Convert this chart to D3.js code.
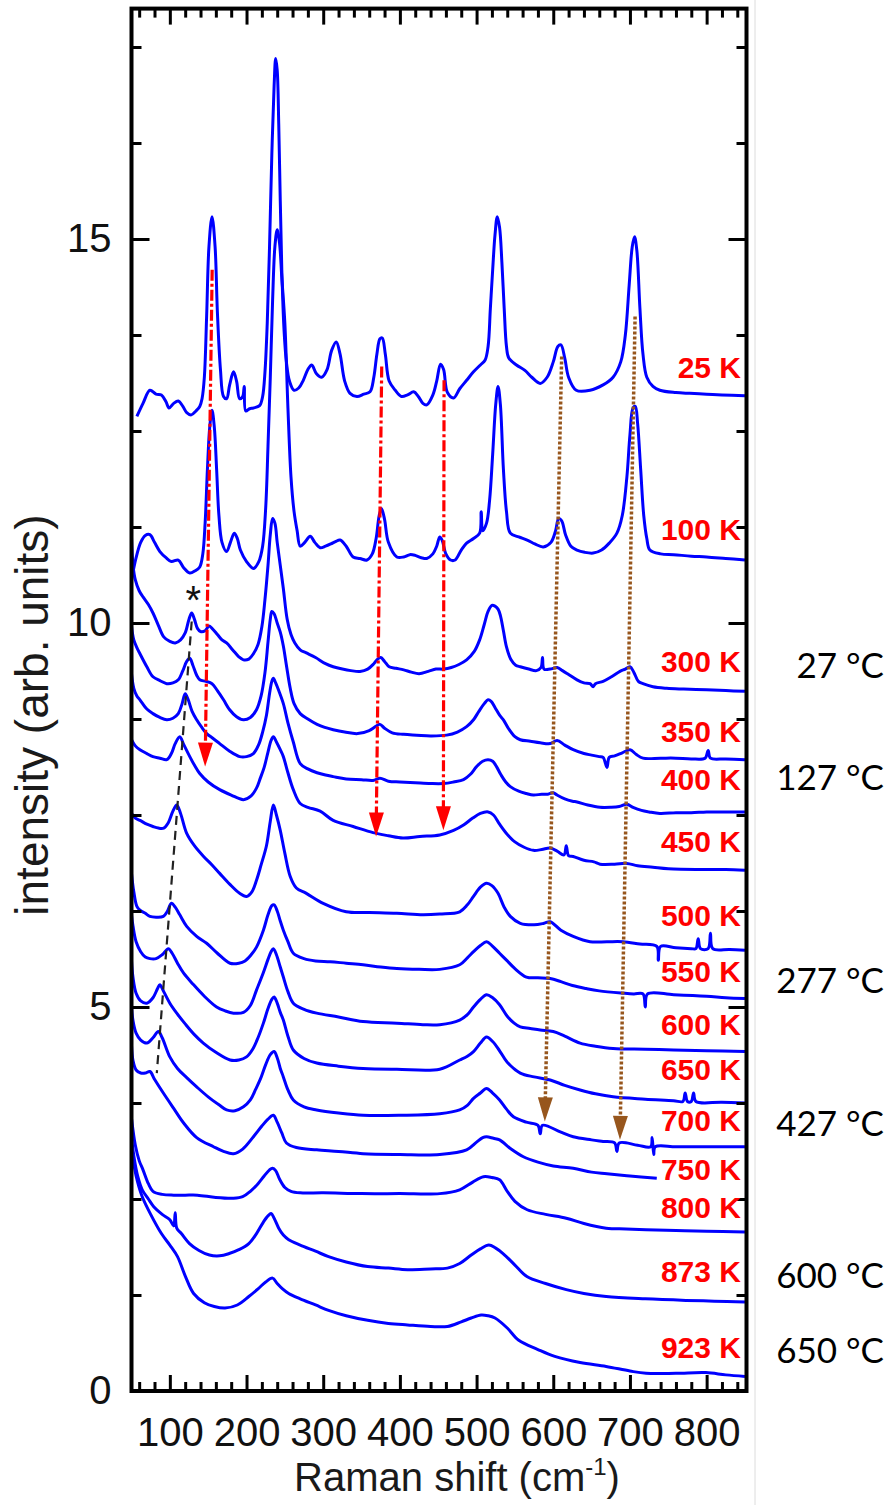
<!DOCTYPE html>
<html><head><meta charset="utf-8">
<script src="https://cdn.jsdelivr.net/npm/d3@7/dist/d3.min.js"></script>
<style>body{margin:0;background:#fff}svg{display:block}</style>
</head><body>
<svg id="chart" width="890" height="1505"></svg>
<script>
// ---------- data (Raman shift cm-1, intensity arb. units) ----------
const xMajorTicks = [100,200,300,400,500,600,700,800];
const xMinorTicks = d3.range(60, 852, 20).filter(v => v % 100 !== 0);
const yMajorTicks = [0,5,10,15];
const yMinorTicks = [1.25,2.5,3.75,6.25,7.5,8.75,11.25,12.5,13.75,16.25,17.5];

const s25K = [[57,12.69],[65,12.86],[74,13.03],[82,12.98],[89,12.97],[95,12.88],[99,12.80],[105,12.86],[111,12.89],[117,12.82],[122,12.74],[128,12.71],[134,12.76],[139,12.82],[142,12.92],[145,13.2],[148,14.0],[151,14.9],[155,15.29],[159,14.9],[162,14.05],[166,13.3],[170,12.95],[174,12.92],[178,13.1],[183,13.27],[187,13.15],[191,12.92],[195,12.95],[197,13.08],[199,12.76],[204,12.79],[209,12.8],[217,12.83],[221,12.95],[224,13.26],[227,13.9],[230,14.9],[233,16.1],[236,17.0],[238,17.35],[240,17.2],[242,16.5],[244,15.5],[246,14.6],[249,13.8],[252,13.4],[256,13.15],[262,13.03],[268,13.06],[274,13.16],[280,13.3],[285,13.36],[291,13.25],[298,13.2],[305,13.3],[311,13.55],[317,13.66],[322,13.5],[328,13.15],[335,12.99],[344,12.95],[353,12.98],[361,13.01],[366,13.2],[370,13.5],[374,13.7],[377,13.71],[381,13.5],[386,13.15],[394,13.03],[402,12.95],[410,12.97],[418,13.01],[424,12.95],[430,12.86],[435,12.84],[443,12.97],[448,13.15],[453,13.37],[457,13.3],[462,13.0],[470,12.93],[478,13.05],[487,13.16],[496,13.27],[505,13.36],[511,13.42],[515,13.6],[518,14.1],[521,14.6],[524,15.05],[527,15.29],[530,15.15],[533,14.7],[536,14.1],[539,13.6],[542,13.45],[552,13.36],[563,13.29],[572,13.2],[583,13.12],[592,13.2],[600,13.4],[606,13.6],[610,13.62],[615,13.45],[620,13.2],[630,13.03],[648,13.03],[665,13.1],[678,13.2],[688,13.4],[694,13.75],[699,14.4],[703,14.9],[706,15.03],[709,14.85],[713,14.1],[717,13.5],[722,13.2],[730,13.08],[739,13.03],[760,13.0],[778,12.99],[800,12.98],[820,12.97],[850,12.96]];
const s100K = [[50,10.56],[56,10.85],[62,11.05],[68,11.14],[74,11.15],[80,11.05],[87,10.93],[95,10.85],[102,10.8],[111,10.82],[118,10.72],[126,10.65],[133,10.68],[139,10.73],[143,10.9],[146,11.3],[149,12.0],[152,12.55],[155,12.77],[158,12.55],[161,12.0],[164,11.4],[168,11.05],[174,10.93],[179,11.05],[184,11.17],[188,11.1],[192,10.95],[200,10.8],[209,10.71],[216,10.8],[221,11.0],[225,11.5],[228,12.3],[231,13.2],[234,14.2],[237,14.9],[240,15.12],[243,14.95],[246,14.5],[250,13.9],[254,12.8],[258,11.9],[262,11.45],[266,11.2],[270,11.0],[276,11.05],[283,11.13],[289,11.05],[296,10.98],[303,11.0],[310,11.03],[316,11.06],[322,11.08],[330,11.0],[339,10.86],[348,10.84],[357,10.82],[364,10.9],[369,11.1],[373,11.4],[376,11.49],[380,11.35],[385,11.05],[396,10.86],[405,10.86],[413,10.89],[420,10.88],[428,10.85],[435,10.84],[443,10.9],[448,11.0],[452,11.12],[455,11.08],[460,10.9],[466,10.82],[472,10.82],[480,10.95],[487,11.04],[496,11.1],[504,11.17],[506,11.45],[508,11.2],[513,11.3],[517,11.6],[521,12.2],[525,12.85],[528,13.08],[531,12.85],[535,12.0],[539,11.45],[544,11.17],[555,11.12],[566,11.08],[576,11.03],[587,10.99],[597,11.05],[603,11.2],[607,11.36],[611,11.33],[616,11.15],[623,11.0],[631,10.95],[641,10.92],[652,10.91],[663,10.95],[673,11.04],[683,11.17],[690,11.4],[696,11.9],[700,12.45],[704,12.8],[707,12.82],[710,12.6],[714,12.0],[718,11.4],[722,11.1],[726,10.95],[740,10.9],[757,10.89],[780,10.87],[800,10.86],[825,10.84],[850,10.82]];
const s300K = [[50,11.12],[52,10.75],[55,10.56],[60,10.42],[65,10.34],[72,10.24],[78,10.13],[85,9.97],[92,9.82],[100,9.76],[107,9.74],[114,9.78],[120,9.87],[125,10.05],[128.5,10.13],[132,10.05],[136,9.93],[140,9.89],[146,9.9],[151,9.96],[155,9.93],[162,9.85],[168,9.78],[174,9.74],[182,9.65],[190,9.56],[196,9.52],[203,9.53],[209,9.6],[215,9.72],[220,9.95],[224,10.3],[228,10.75],[231,11.15],[234,11.36],[237,11.3],[240,11.05],[244,10.75],[248,10.45],[253,10.05],[258,9.85],[263,9.74],[270,9.65],[278,9.61],[290,9.55],[303,9.47],[313,9.43],[325,9.4],[336,9.38],[348,9.37],[358,9.4],[366,9.47],[371,9.53],[375,9.55],[380,9.5],[386,9.43],[395,9.41],[405,9.39],[415,9.36],[425,9.34],[437,9.37],[447,9.4],[457,9.4],[467,9.42],[477,9.46],[487,9.52],[497,9.63],[504,9.78],[510,9.98],[515,10.15],[520,10.23],[524,10.22],[528,10.18],[531,10.1],[535,9.9],[539,9.69],[545,9.52],[551,9.45],[557,9.43],[568,9.4],[578,9.38],[584,9.42],[586,9.55],[588,9.4],[596,9.4],[605,9.42],[612,9.38],[620,9.33],[631,9.26],[640,9.22],[648,9.21],[652,9.17],[655,9.21],[665,9.24],[676,9.3],[687,9.37],[694,9.4],[700,9.43],[705,9.36],[711,9.24],[717,9.21],[730,9.17],[748,9.15],[770,9.14],[800,9.13],[825,9.12],[850,9.11]];
const s350K = [[50,9.96],[53,9.78],[57,9.68],[61,9.6],[70,9.43],[78,9.3],[87,9.25],[96,9.21],[104,9.22],[111,9.26],[117,9.38],[122,9.5],[126,9.54],[130,9.45],[135,9.32],[139,9.26],[147,9.24],[155,9.21],[162,9.12],[170,9.0],[178,8.87],[187,8.78],[196,8.74],[205,8.77],[213,8.87],[219,9.05],[224,9.35],[228,9.75],[231,10.05],[233,10.15],[236,10.12],[240,10.0],[244,9.88],[248,9.7],[252,9.45],[257,9.15],[262,8.95],[270,8.82],[280,8.75],[292,8.68],[302,8.64],[313,8.61],[328,8.58],[345,8.56],[360,8.6],[368,8.65],[374,8.68],[380,8.63],[390,8.57],[405,8.55],[422,8.54],[440,8.53],[461,8.54],[475,8.58],[487,8.65],[496,8.74],[503,8.85],[510,8.95],[515,9.0],[519,8.98],[524,8.9],[530,8.8],[535,8.74],[542,8.62],[550,8.52],[557,8.48],[570,8.46],[583,8.44],[596,8.43],[605,8.47],[615,8.41],[626,8.35],[640,8.3],[650,8.28],[660,8.26],[665,8.25],[670,8.12],[673,8.25],[680,8.27],[690,8.31],[700,8.35],[708,8.29],[717,8.24],[740,8.24],[760,8.24],[780,8.23],[798,8.24],[802,8.34],[805,8.24],[825,8.23],[850,8.22]];
const s400K = [[50,9.34],[53,9.15],[57,9.05],[61,9.0],[70,8.88],[78,8.82],[87,8.77],[96,8.74],[104,8.76],[111,8.82],[116,8.95],[120,9.08],[124,9.0],[129,8.85],[135,8.74],[141,8.65],[148,8.56],[156,8.5],[165,8.43],[178,8.33],[191,8.26],[200,8.26],[209,8.3],[216,8.42],[221,8.58],[226,8.8],[230,9.08],[233,9.24],[235,9.28],[238,9.22],[242,9.12],[248,8.95],[254,8.7],[261,8.45],[270,8.17],[280,8.1],[292,8.05],[303,8.02],[313,8.0],[330,7.97],[350,7.96],[365,7.95],[374,7.98],[385,7.94],[400,7.93],[420,7.92],[440,7.91],[457,7.91],[470,7.93],[483,7.96],[492,8.03],[500,8.13],[508,8.2],[515,8.22],[521,8.2],[526,8.13],[532,8.02],[538,7.93],[544,7.87],[555,7.81],[565,7.78],[574,7.76],[585,7.77],[593,7.77],[600,7.79],[605,7.76],[615,7.71],[625,7.68],[631,7.67],[645,7.63],[661,7.6],[675,7.6],[686,7.61],[696,7.64],[704,7.6],[715,7.56],[725,7.54],[739,7.52],[760,7.53],[780,7.53],[800,7.54],[820,7.54],[850,7.54]];
const s450K = [[50,8.48],[55,8.4],[61,8.35],[70,8.3],[78,8.26],[87,8.24],[96,8.22],[102,8.3],[107,8.43],[113,8.52],[118,8.42],[126,8.26],[132,8.15],[139,8.04],[150,7.93],[165,7.83],[180,7.76],[196,7.7],[206,7.75],[213,7.85],[218,7.98],[223,8.12],[228,8.32],[232,8.47],[235,8.52],[239,8.45],[244,8.35],[248,8.26],[254,8.05],[261,7.83],[270,7.65],[280,7.6],[296,7.55],[313,7.43],[339,7.35],[365,7.27],[385,7.23],[404,7.2],[426,7.22],[452,7.24],[470,7.3],[483,7.37],[495,7.46],[505,7.52],[515,7.54],[522,7.5],[530,7.38],[539,7.26],[550,7.15],[562,7.08],[574,7.04],[585,7.05],[596,7.07],[605,7.03],[614,6.98],[617,7.1],[620,6.97],[626,6.96],[640,6.91],[653,6.89],[661,6.86],[680,6.86],[696,6.87],[710,6.84],[730,6.82],[750,6.8],[800,6.79],[825,6.79],[850,6.78]];
const s500K = [[50,7.52],[55,7.46],[61,7.43],[70,7.38],[78,7.35],[85,7.33],[92,7.33],[98,7.4],[104,7.55],[109,7.63],[114,7.52],[122,7.26],[132,7.1],[144,6.96],[155,6.85],[165,6.74],[178,6.6],[191,6.48],[200,6.44],[207,6.5],[213,6.65],[219,6.85],[226,7.1],[231,7.42],[235,7.63],[239,7.5],[244,7.3],[250,7.0],[257,6.7],[265,6.55],[278,6.48],[300,6.35],[330,6.24],[360,6.23],[396,6.22],[430,6.2],[452,6.21],[478,6.24],[488,6.33],[496,6.44],[505,6.56],[513,6.61],[520,6.58],[528,6.48],[536,6.3],[544,6.18],[557,6.09],[575,6.07],[588,6.09],[596,6.11],[610,6.0],[626,5.92],[648,5.85],[670,5.85],[691,5.85],[713,5.82],[735,5.79],[737,5.61],[740,5.79],[760,5.77],[780,5.76],[786,5.76],[789,5.89],[792,5.76],[802,5.76],[805,5.96],[808,5.76],[830,5.75],[850,5.74]];
const s550K = [[50,6.74],[53,6.5],[57,6.31],[61,6.26],[68,6.22],[74,6.18],[82,6.17],[91.5,6.18],[97,6.25],[102,6.35],[107,6.3],[113,6.2],[122,6.05],[135,5.92],[148,5.83],[162,5.7],[178.5,5.57],[190,5.57],[198,5.6],[206,5.68],[213,5.78],[222,6.0],[228,6.2],[233,6.32],[236,6.33],[240,6.25],[244,6.12],[248,6.0],[254,5.85],[261,5.7],[275,5.63],[290,5.6],[309,5.59],[330,5.57],[352,5.55],[375,5.52],[396,5.5],[425,5.49],[452,5.49],[478,5.55],[488,5.64],[496,5.72],[505,5.8],[513,5.85],[520,5.8],[530,5.7],[539,5.61],[550,5.5],[565,5.39],[580,5.38],[596,5.37],[610,5.33],[625,5.28],[643,5.24],[660,5.21],[691,5.18],[705,5.17],[717,5.17],[720,5.0],[723,5.17],[757,5.16],[800,5.14],[825,5.12],[850,5.11]];
const s600K = [[50,6.2],[52,6.05],[56,5.85],[62,5.72],[68,5.65],[74,5.63],[82,5.63],[90,5.68],[98,5.76],[103,5.7],[110,5.57],[118,5.44],[130,5.3],[145,5.14],[161,5.0],[172,4.95],[183,4.92],[196,4.93],[205,5.02],[213,5.22],[222,5.45],[228,5.62],[232,5.72],[235,5.76],[239,5.68],[244,5.52],[248,5.39],[254,5.2],[261,5.05],[275,4.97],[291.5,4.92],[320,4.87],[352,4.81],[396,4.79],[430,4.77],[452,4.77],[478,4.83],[488,4.9],[496,5.0],[505,5.1],[513,5.16],[521,5.12],[530,5.03],[540,4.88],[549,4.79],[557,4.74],[570,4.72],[583,4.7],[600,4.68],[615,4.62],[635,4.53],[655,4.49],[678,4.46],[720,4.45],[757,4.44],[800,4.43],[850,4.42]];
const s650K = [[50,5.6],[52,5.38],[56,5.18],[62,5.08],[70,5.05],[78,5.12],[84,5.24],[87,5.29],[92,5.2],[100,5.05],[109,4.92],[120,4.78],[132,4.64],[143.6,4.53],[160,4.41],[178.5,4.31],[190,4.31],[200,4.35],[208,4.45],[215,4.6],[222,4.79],[228,4.98],[233,5.1],[236,5.13],[240,5.05],[244,4.93],[248,4.83],[254,4.62],[261,4.44],[275,4.33],[291.5,4.27],[320,4.23],[352,4.2],[396,4.19],[452,4.19],[478,4.31],[488,4.36],[496,4.42],[505,4.53],[513,4.61],[521,4.55],[530,4.43],[540,4.28],[557,4.14],[575,4.09],[596,4.05],[615,3.98],[635,3.92],[655,3.87],[678,3.83],[720,3.8],[757,3.78],[769,3.77],[772,3.88],[775,3.77],[780,3.77],[783,3.88],[786,3.77],[820,3.76],[850,3.75]];
const s700K = [[50,5.0],[52,4.82],[56,4.66],[62,4.57],[70,4.53],[78,4.6],[85,4.68],[90,4.6],[100,4.35],[110,4.2],[122,4.08],[135,3.96],[150,3.83],[165,3.72],[174,3.66],[185,3.65],[196,3.7],[205,3.79],[212,3.93],[218,4.06],[225,4.25],[231,4.38],[236,4.42],[240,4.34],[244,4.2],[248,4.09],[254,3.92],[261,3.79],[275,3.7],[291.5,3.66],[320,3.62],[352,3.59],[400,3.59],[452,3.61],[478,3.66],[488,3.72],[496,3.81],[505,3.88],[513,3.94],[521,3.88],[530,3.79],[539,3.67],[548,3.57],[565,3.5],[580,3.46],[583,3.35],[586,3.46],[610,3.37],[626,3.31],[650,3.27],[665,3.25],[680,3.23],[683,3.12],[686,3.23],[710,3.2],[727,3.18],[729,3.3],[731,3.08],[733,3.18],[760,3.18],[800,3.18],[850,3.18]];
const s750K = [[50,4.5],[52,4.3],[56,4.18],[62,4.14],[68,4.14],[74,4.16],[80,4.06],[91.5,3.88],[105,3.68],[118,3.49],[135,3.3],[157,3.18],[170,3.12],[183,3.09],[195,3.15],[209,3.31],[220,3.45],[228,3.54],[235,3.59],[240,3.5],[246,3.36],[252,3.23],[265,3.17],[291.5,3.14],[320,3.12],[352,3.09],[400,3.08],[452,3.08],[487,3.14],[500,3.24],[508,3.3],[513,3.31],[522,3.29],[530,3.27],[545,3.15],[561,3.05],[580,2.98],[600,2.93],[626,2.9],[650,2.85],[670,2.83],[700,2.8],[735,2.77]];
const s800K = [[50,3.55],[55,3.2],[60,3.0],[65,2.88],[72,2.7],[78,2.6],[90,2.56],[105,2.55],[120,2.55],[136,2.55],[160,2.52],[183,2.51],[195,2.53],[205,2.6],[215,2.7],[223,2.8],[230,2.88],[234,2.9],[238,2.87],[243,2.76],[250,2.65],[258,2.6],[270,2.58],[300,2.58],[350,2.57],[400,2.57],[452,2.57],[478,2.62],[495,2.72],[509,2.79],[520,2.78],[530,2.75],[540,2.6],[550,2.47],[566,2.36],[590,2.3],[617,2.25],[640,2.18],[669,2.12],[695,2.11],[721,2.1],[760,2.09],[800,2.08],[850,2.07]];
const s873K = [[50,3.3],[54,3.0],[58,2.8],[64,2.62],[72,2.5],[79,2.4],[90,2.3],[100,2.23],[105,2.15],[107,2.32],[109,2.12],[115,2.05],[125.6,1.92],[138,1.83],[151.6,1.77],[165,1.76],[177.4,1.79],[190,1.84],[203,1.92],[213,2.05],[222,2.2],[228,2.28],[232,2.31],[236,2.25],[242,2.12],[248,2.03],[255,1.97],[270,1.9],[290,1.82],[307,1.75],[330,1.68],[358,1.62],[385,1.6],[410,1.58],[440,1.59],[462,1.6],[478,1.66],[493,1.77],[505,1.85],[516,1.9],[525,1.86],[534.5,1.79],[550,1.64],[565.6,1.49],[590,1.4],[617,1.32],[640,1.27],[669,1.23],[720,1.2],[773,1.18],[810,1.17],[850,1.16]];
const s923K = [[50,3.2],[54,2.9],[58,2.72],[64,2.53],[75,2.3],[89,2.05],[100,1.9],[110,1.75],[120,1.5],[131,1.27],[145,1.15],[158,1.1],[172,1.08],[188,1.12],[203,1.23],[215,1.33],[225,1.42],[234,1.47],[240,1.4],[247,1.33],[255,1.27],[270,1.2],[290,1.12],[307,1.05],[330,0.98],[358,0.92],[385,0.88],[410,0.86],[440,0.84],[462,0.84],[480,0.9],[493,0.95],[506,0.99],[515,0.98],[524,0.95],[540,0.82],[555,0.66],[580,0.54],[602,0.45],[635,0.37],[669,0.32],[700,0.26],[721,0.23],[760,0.23],[799,0.24],[825,0.21],[850,0.19]];

const spectraData = [s25K,s100K,s300K,s350K,s400K,s450K,s500K,s550K,s600K,s650K,s700K,s750K,s800K,s873K,s923K];
const tempLabels = ["25 K","100 K","300 K","350 K","400 K","450 K","500 K","550 K","600 K","650 K","700 K","750 K","800 K","873 K","923 K"];
const tempLabelLevels = [13.19,11.08,9.36,8.45,7.83,7.02,6.05,5.33,4.64,4.05,3.38,2.75,2.25,1.42,0.43];
const celsiusLabels = ["27 °C","127 °C","277 °C","427 °C","600 °C","650 °C"];
const celsiusLevels = [9.28,7.83,5.18,3.32,1.34,0.36];

// annotation arrows: [start, tip] in data units
const redArrows = [[[155.2,14.6],[146,8.13]],[[376.3,13.34],[369,7.22]],[[457.6,13.16],[456.7,7.3]]];
const brownArrows = [[[611,13.47],[589,3.51]],[[706.7,13.99],[687,3.27]]];
const softModeGuide = [[128.5,10.02],[83,4.14]];
const asteriskAt = [130.6,10.43];

// ---------- drawing ----------
const svg = d3.select('#chart');
const FONT = "'Liberation Sans', Arial, Helvetica, sans-serif";
const x = d3.scaleLinear().domain([50,852]).range([131.5,746.5]);
const y = d3.scaleLinear().domain([0,18]).range([1391,8.6]);
const [x0,x1] = x.range(), [yb,yt] = y.range();

svg.append('line').attr('x1',755).attr('x2',755).attr('y1',0).attr('y2',1505)
  .attr('stroke','#dcdcdc').attr('stroke-width',1);

svg.append('clipPath').attr('id','plotclip').append('rect')
  .attr('x',x0).attr('y',yt).attr('width',x1-x0).attr('height',yb-yt);

const line = d3.line().x(d=>x(d[0])).y(d=>y(d[1])).curve(d3.curveCatmullRom.alpha(0.5));
const gS = svg.append('g').attr('clip-path','url(#plotclip)');
gS.selectAll('path.spec').data(spectraData).join('path')
  .attr('class','spec').attr('d',line).attr('fill','none')
  .attr('stroke','#0000ff').attr('stroke-width',3).attr('stroke-linejoin','round');

function arrow(g, seg, color, dash, width, headL, headW){
  const sx=x(seg[0][0]), sy=y(seg[0][1]), tx=x(seg[1][0]), ty=y(seg[1][1]);
  const dx=tx-sx, dy=ty-sy, L=Math.hypot(dx,dy), ux=dx/L, uy=dy/L;
  const bx=tx-ux*headL, by=ty-uy*headL;
  g.append('line').attr('x1',sx).attr('y1',sy).attr('x2',bx+ux*2).attr('y2',by+uy*2)
    .attr('stroke',color).attr('stroke-width',width).attr('stroke-dasharray',dash);
  const px=-uy, py=ux;
  g.append('path').attr('d',`M${tx},${ty}L${bx+px*headW},${by+py*headW}L${bx-px*headW},${by-py*headW}Z`)
    .attr('fill',color);
}
const gA = svg.append('g');
redArrows.forEach(s=>arrow(gA,s,'#ff0000','11,3,3,3',3.2,24,7.5));
brownArrows.forEach(s=>arrow(gA,s,'#97561d','3,2',3.5,24,7.5));
gA.append('path').attr('d', d3.line().x(d=>x(d[0])).y(d=>y(d[1]))(softModeGuide))
  .attr('stroke','#222').attr('stroke-width',2.2).attr('stroke-dasharray','9,6').attr('fill','none');
gA.append('text').attr('x',x(asteriskAt[0])).attr('y',y(asteriskAt[1])).attr('dy','0.59em')
  .attr('text-anchor','middle').attr('font-family',FONT).attr('font-size',40).attr('fill','#111').text('*');

function styleAxis(g){ g.select('.domain').remove(); g.selectAll('line').attr('stroke','#000').attr('stroke-width',3); }
svg.append('g').attr('transform',`translate(0,${yb})`)
  .call(d3.axisBottom(x).tickValues(xMinorTicks).tickSize(-9).tickFormat('')).call(styleAxis);
const gxb = svg.append('g').attr('transform',`translate(0,${yb})`)
  .call(d3.axisBottom(x).tickValues(xMajorTicks).tickSize(-16).tickPadding(27).tickFormat(d3.format('d'))).call(styleAxis);
gxb.selectAll('text').attr('font-family',FONT).attr('font-size',40).attr('fill','#111');
svg.append('g').attr('transform',`translate(0,${yt})`)
  .call(d3.axisTop(x).tickValues(xMinorTicks).tickSize(-9).tickFormat('')).call(styleAxis);
svg.append('g').attr('transform',`translate(0,${yt})`)
  .call(d3.axisTop(x).tickValues(xMajorTicks).tickSize(-16).tickFormat('')).call(styleAxis);
svg.append('g').attr('transform',`translate(${x0},0)`)
  .call(d3.axisLeft(y).tickValues(yMinorTicks).tickSize(-10).tickFormat('')).call(styleAxis);
const gyl = svg.append('g').attr('transform',`translate(${x0},0)`)
  .call(d3.axisLeft(y).tickValues(yMajorTicks).tickSize(-18).tickPadding(20).tickFormat(d3.format('d'))).call(styleAxis);
gyl.selectAll('text').attr('font-family',FONT).attr('font-size',40).attr('fill','#111');
svg.append('g').attr('transform',`translate(${x1},0)`)
  .call(d3.axisRight(y).tickValues(yMinorTicks).tickSize(-10).tickFormat('')).call(styleAxis);
svg.append('g').attr('transform',`translate(${x1},0)`)
  .call(d3.axisRight(y).tickValues(yMajorTicks).tickSize(-18).tickFormat('')).call(styleAxis);

svg.append('rect').attr('x',x0).attr('y',yt).attr('width',x1-x0).attr('height',yb-yt)
  .attr('fill','none').attr('stroke','#000').attr('stroke-width',4);

svg.append('g').selectAll('text').data(tempLabels).join('text')
  .attr('x',741).attr('y',(d,i)=>y(tempLabelLevels[i])).attr('text-anchor','end')
  .attr('font-family',FONT).attr('font-weight','bold').attr('font-size',30).attr('fill','#ff0000').text(d=>d);
svg.append('g').selectAll('text').data(celsiusLabels).join('text')
  .attr('x',884).attr('y',(d,i)=>y(celsiusLevels[i])).attr('text-anchor','end')
  .attr('font-family',"Lato, 'Open Sans', sans-serif").attr('font-size',35).attr('fill','#000').text(d=>d);

const xt = svg.append('text').attr('x',457).attr('y',1491).attr('text-anchor','middle')
  .attr('font-family',FONT).attr('font-size',40).attr('fill','#1a1a1a');
xt.append('tspan').text('Raman shift (cm');
xt.append('tspan').attr('font-size',24).attr('dy',-16).text('-1');
xt.append('tspan').attr('dy',16).text(')');
svg.append('text').attr('transform','translate(48,715) rotate(-90)').attr('text-anchor','middle')
  .attr('font-family',FONT).attr('font-size',46).attr('fill','#1a1a1a').text('intensity (arb. units)');
</script>
</body></html>
